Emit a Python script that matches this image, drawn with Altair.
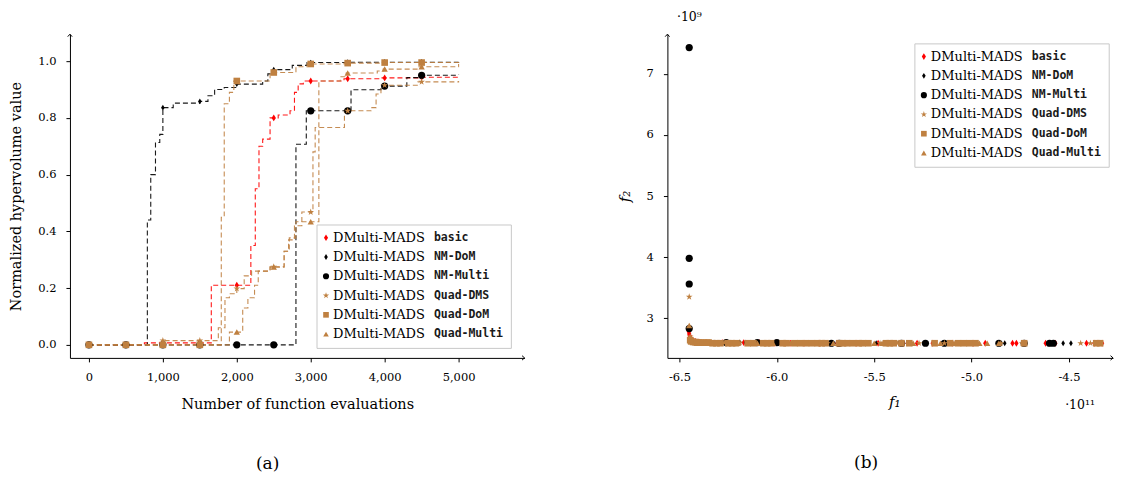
import altair as alt
import pandas as pd

SERIF = "DejaVu Serif"
MONO = "DejaVu Sans Mono"

SERIES = ["DMulti-MADS basic", "DMulti-MADS NM-DoM", "DMulti-MADS NM-Multi",
          "DMulti-MADS Quad-DMS", "DMulti-MADS Quad-DoM", "DMulti-MADS Quad-Multi"]
PREFIX = ["DMulti-MADS", "DMulti-MADS", "DMulti-MADS", "DMulti-MADS", "DMulti-MADS", "DMulti-MADS"]
VARIANTS = ["basic", "NM-DoM", "NM-Multi", "Quad-DMS", "Quad-DoM", "Quad-Multi"]
COLORS = ["#ff0000", "#000000", "#000000", "#bf8040", "#bf8040", "#bf8040"]
DIAMOND = "M0,-1L0.62,0L0,1L-0.62,0Z"
STAR = ("M0,-1L0.2245,-0.309L0.9511,-0.309L0.3633,0.118L0.5878,0.809L0,0.382"
        "L-0.5878,0.809L-0.3633,0.118L-0.9511,-0.309L-0.2245,-0.309Z")
SHAPES = [DIAMOND, DIAMOND, "circle", STAR, "square", "triangle-up"]
SIZES = [48, 34, 52, 50, 44, 40]
LEG_SIZES = [44, 34, 38, 44, 32, 32]

# ---------------- (a) normalized hypervolume vs evaluations ----------------
MARK_X = [0, 500, 1000, 1500, 2000, 2500, 3000, 3500, 4000, 4500]

basic_cx = [0, 750, 1655, 2190, 2250, 2300, 2350, 2450, 2560, 2720, 2780, 2830, 2900, 3450, 3950, 4450, 5000]
basic_cy = [0.0, 0.007, 0.21, 0.35, 0.55, 0.70, 0.725, 0.80, 0.81, 0.825, 0.89, 0.92, 0.93, 0.938, 0.941, 0.943, 0.946]
basic_my = [0.0, 0.0, 0.007, 0.007, 0.21, 0.80, 0.93, 0.938, 0.941, 0.943]

nmdom_cx = [0, 790, 836, 900, 958, 1000, 1140, 1500, 1610, 1700, 1830, 2000, 2350, 2420, 2480, 2750, 2950, 3500, 5000]
nmdom_cy = [0.0, 0.44, 0.60, 0.713, 0.742, 0.836, 0.852, 0.858, 0.878, 0.90, 0.907, 0.919, 0.93, 0.955, 0.97, 0.985, 0.995, 0.996, 0.997]
nmdom_my = [0.0, 0.0, 0.836, 0.858, 0.919, 0.97, 0.995, 0.996, 0.997, 0.997]

nmmulti_cx = [0, 2800, 2940, 3545, 3950, 4300, 4480, 5000]
nmmulti_cy = [0.0, 0.707, 0.825, 0.899, 0.912, 0.942, 0.95, 0.952]
nmmulti_my = [0.0, 0.0, 0.0, 0.0, 0.0, 0.0, 0.825, 0.825, 0.912, 0.95]

qdms_cx = [0, 1000, 1750, 1840, 1900, 2000, 2100, 2200, 2450, 2640, 2700, 2780, 2880, 3030, 3060, 3456, 3816, 3884, 3950, 4450, 5000]
qdms_cy = [0.0, 0.015, 0.06, 0.166, 0.18, 0.198, 0.243, 0.26, 0.275, 0.33, 0.37, 0.42, 0.468, 0.68, 0.766, 0.825, 0.836, 0.884, 0.915, 0.927, 0.93]
qdms_my = [0.0, 0.0, 0.015, 0.015, 0.198, 0.275, 0.468, 0.825, 0.915, 0.927]

qdom_cx = [0, 1790, 1830, 1900, 1960, 2450, 2800, 2950, 3450, 3950, 5000]
qdom_cy = [0.0, 0.45, 0.85, 0.89, 0.93, 0.96, 0.98, 0.99, 0.993, 0.995, 0.997]
qdom_my = [0.0, 0.0, 0.0, 0.0, 0.93, 0.96, 0.99, 0.993, 0.995, 0.995]

qmulti_cx = [0, 1900, 2080, 2150, 2240, 2290, 2450, 2640, 2710, 2800, 3110, 3400, 3480, 3900, 3980, 4450, 5000]
qmulti_cy = [0.0, 0.045, 0.13, 0.166, 0.21, 0.26, 0.274, 0.33, 0.377, 0.434, 0.93, 0.945, 0.958, 0.965, 0.972, 0.98, 0.99]
qmulti_my = [0.0, 0.0, 0.0, 0.0, 0.045, 0.274, 0.434, 0.958, 0.972, 0.98]

CURVES_X = [basic_cx, nmdom_cx, nmmulti_cx, qdms_cx, qdom_cx, qmulti_cx]
CURVES_Y = [basic_cy, nmdom_cy, nmmulti_cy, qdms_cy, qdom_cy, qmulti_cy]
MARKS_Y = [basic_my, nmdom_my, nmmulti_my, qdms_my, qdom_my, qmulti_my]

# ---------------- (b) objective space (f1 in 1e11, f2 in 1e9) ----------------
basic_f1 = [-6.452, -6.450, -6.447, -6.444, -6.440, -6.435, -6.428, -6.418, -6.40, -6.36,
            -6.28, -6.17, -6.09, -6.01, -5.93, -5.86, -5.78, -5.69, -5.59, -5.48,
            -5.35, -5.28, -5.20, -5.10, -4.99, -4.93, -4.79, -4.77, -4.73, -4.62,
            -4.60, -4.57, -4.41, -4.37, -4.33]
basic_f2 = [2.78, 2.74, 2.71, 2.68, 2.66, 2.64, 2.63, 2.62, 2.61, 2.60,
            2.60, 2.60, 2.60, 2.59, 2.59, 2.59, 2.59, 2.59, 2.59, 2.59,
            2.59, 2.59, 2.59, 2.59, 2.59, 2.59, 2.59, 2.59, 2.59, 2.59,
            2.59, 2.59, 2.59, 2.59, 2.59]

nmdom_f1 = [-6.445, -6.32, -6.19, -6.16, -6.08, -5.99, -5.72, -5.65, -5.49, -5.33,
            -5.31, -5.10, -4.86, -4.83, -4.53, -4.49]
nmdom_f2 = [2.62, 2.60, 2.60, 2.60, 2.59, 2.59, 2.59, 2.59, 2.59, 2.59,
            2.59, 2.59, 2.59, 2.59, 2.59, 2.59]

nmmulti_f1 = [-6.45, -6.45, -6.45, -6.45, -6.26, -6.10, -6.00, -5.72, -5.68, -5.36,
              -5.237, -5.14, -4.86, -4.73, -4.60, -4.58]
nmmulti_f2 = [7.43, 3.98, 3.56, 2.83, 2.60, 2.60, 2.60, 2.59, 2.59, 2.59,
              2.59, 2.59, 2.59, 2.59, 2.59, 2.59]

qdms_f1 = [-6.45, -6.445, -6.41, -6.34, -6.27, -6.19, -6.13, -6.04, -5.96, -5.87,
           -5.80, -5.74, -5.62, -5.54, -5.47, -5.38, -5.27, -5.14, -5.05, -4.97,
           -4.85, -4.74, -4.44, -4.39]
qdms_f2 = [3.35, 2.70, 2.60, 2.60, 2.60, 2.60, 2.59, 2.59, 2.59, 2.59,
           2.59, 2.59, 2.59, 2.59, 2.59, 2.59, 2.59, 2.59, 2.59, 2.59,
           2.59, 2.59, 2.59, 2.59]

qdom_f1 = [-6.445, -6.44, -6.43, -6.42, -6.41, -6.40, -6.39, -6.38, -6.36, -6.35,
           -6.33, -6.31, -6.29, -6.25, -6.23, -6.21, -6.15, -6.12, -6.07, -6.05,
           -6.03, -5.97, -5.95, -5.91, -5.88, -5.85, -5.82, -5.79, -5.77, -5.75,
           -5.68, -5.66, -5.64, -5.61, -5.58, -5.56, -5.53, -5.44, -5.42, -5.40,
           -5.36, -5.32, -5.19, -5.11, -5.07, -5.04, -5.01, -4.98, -4.73, -4.36,
           -4.34]
qdom_f2 = [2.64, 2.62, 2.61, 2.61, 2.60, 2.60, 2.60, 2.60, 2.60, 2.60,
           2.59, 2.59, 2.59, 2.59, 2.59, 2.59, 2.59, 2.59, 2.59, 2.59,
           2.59, 2.59, 2.59, 2.59, 2.59, 2.59, 2.59, 2.59, 2.59, 2.59,
           2.59, 2.59, 2.59, 2.59, 2.59, 2.59, 2.59, 2.59, 2.59, 2.59,
           2.59, 2.59, 2.59, 2.59, 2.59, 2.59, 2.59, 2.59, 2.59, 2.59,
           2.59]

qmulti_f1 = [-6.45, -6.445, -6.42, -6.37, -6.30, -6.20, -6.10, -6.02, -5.93, -5.84,
             -5.71, -5.60, -5.50, -5.46, -5.30, -5.16, -5.09, -5.00, -4.96, -4.92,
             -4.86]
qmulti_f2 = [2.88, 2.66, 2.60, 2.60, 2.60, 2.59, 2.59, 2.59, 2.59, 2.59,
             2.59, 2.59, 2.59, 2.59, 2.59, 2.59, 2.59, 2.59, 2.59, 2.59,
             2.59]

FRONT_X = [basic_f1, nmdom_f1, nmmulti_f1, qdms_f1, qdom_f1, qmulti_f1]
FRONT_Y = [basic_f2, nmdom_f2, nmmulti_f2, qdms_f2, qdom_f2, qmulti_f2]

# ---------------- build tables ----------------
lines_df = pd.concat([pd.DataFrame({"series": s, "col": c, "x": cx, "y": cy,
                                    "o": list(range(len(cx)))})
                      for s, c, cx, cy in zip(SERIES, COLORS, CURVES_X, CURVES_Y)],
                     ignore_index=True)
marks_df = pd.concat([pd.DataFrame({"series": s, "sz": z, "x": MARK_X, "y": my})
                      for s, z, my in zip(SERIES, SIZES, MARKS_Y)], ignore_index=True)
front_df = pd.concat([pd.DataFrame({"series": s, "sz": z, "x": fx, "y": fy})
                      for s, z, fx, fy in zip(SERIES, SIZES, FRONT_X, FRONT_Y)],
                     ignore_index=True)
legend_df = pd.DataFrame({"series": SERIES, "prefix": PREFIX, "variant": VARIANTS,
                          "row": list(range(len(SERIES))), "sz": LEG_SIZES})
one = pd.DataFrame({"a": [0]})

W1, H1 = 455, 324
W2, H2 = 446, 324

UP = "M-0.8,0.9L0,0L0.8,0.9"
RIGHT = "M-0.9,-0.8L0,0L-0.9,0.8"

axis_common = dict(domainColor="black", tickColor="black", labelColor="black",
                   titleColor="black", grid=False, tickSize=4, domainWidth=1,
                   labelFont=SERIF, titleFont=SERIF, labelFontSize=11.5,
                   titleFontWeight="normal", labelPadding=10)

color_enc = alt.Color("series:N", scale=alt.Scale(domain=SERIES, range=COLORS), legend=None)
shape_enc = alt.Shape("series:N", scale=alt.Scale(domain=SERIES, range=SHAPES), legend=None)


def arrows(w, h):
    up = alt.Chart(one).mark_point(shape=UP, filled=False, stroke="black", strokeWidth=1,
                                   size=30, opacity=1).encode(x=alt.value(0), y=alt.value(0))
    rt = alt.Chart(one).mark_point(shape=RIGHT, filled=False, stroke="black", strokeWidth=1,
                                   size=30, opacity=1).encode(x=alt.value(w), y=alt.value(h))
    return up, rt


def legend_layers(left, top):
    """Legend box drawn inside the plot: serif 'DMulti-MADS' + typewriter variant."""
    box = alt.Chart(one).mark_rect(fill="white", stroke="#c8c8c8", strokeWidth=1).encode(
        x=alt.value(left), x2=alt.value(left + 194.5),
        y=alt.value(top), y2=alt.value(top + 123.5))
    base = alt.Chart(legend_df).transform_calculate(
        ly=f"{top + 12.7} + datum.row * 19.3")
    sym = base.mark_point(filled=True, opacity=1, strokeWidth=0).encode(
        x=alt.value(left + 9), y=alt.Y("ly:Q", scale=None),
        color=color_enc, shape=shape_enc, size=alt.Size("sz:Q", scale=None))
    t1 = base.mark_text(align="left", baseline="middle", font=SERIF, fontSize=13,
                        color="black").encode(
        x=alt.value(left + 16), y=alt.Y("ly:Q", scale=None), text="prefix:N")
    t2 = base.mark_text(align="left", baseline="middle", font=MONO, fontSize=11.5,
                        fontWeight="bold", color="#1a1a1a").encode(
        x=alt.value(left + 117), y=alt.Y("ly:Q", scale=None), text="variant:N")
    return [box, sym, t1, t2]


# ---- panel (a)
xa = alt.X("x:Q", scale=alt.Scale(domain=[-257, 5892], nice=False, zero=False),
           axis=alt.Axis(values=[0, 1000, 2000, 3000, 4000, 5000], format=",d",
                         title="Number of function evaluations", titlePadding=14,
                         titleFontSize=14.5, **axis_common))
ya = alt.Y("y:Q", scale=alt.Scale(domain=[-0.046, 1.095], nice=False, zero=False),
           axis=alt.Axis(values=[0, 0.2, 0.4, 0.6, 0.8, 1.0], format=".1f",
                         title="Normalized hypervolume value", titlePadding=14,
                         titleFontSize=14.5, **axis_common))

lines = alt.Chart(lines_df).mark_line(interpolate="step-after", strokeDash=[5, 3],
                                      strokeWidth=1.1, opacity=0.9).encode(
    x=xa, y=ya, stroke=alt.Stroke("col:N", scale=None),
    detail="series:N", order="o:Q")

pts_a = alt.Chart(marks_df).mark_point(filled=True, opacity=1, strokeWidth=0).encode(
    x=xa, y=ya, color=color_enc, shape=shape_enc, size=alt.Size("sz:Q", scale=None))

up_a, rt_a = arrows(W1, H1)

panel_a = alt.layer(lines, pts_a, up_a, rt_a, *legend_layers(247.3, 191)).properties(
    width=W1, height=H1,
    title=alt.TitleParams("(a)", orient="bottom", anchor="middle", frame="bounds",
                          font=SERIF, fontSize=17, fontWeight="normal", color="black", offset=45))

# ---- panel (b)
xb = alt.X("x:Q", scale=alt.Scale(domain=[-6.562, -4.274], nice=False, zero=False),
           axis=alt.Axis(values=[-6.5, -6.0, -5.5, -5.0, -4.5],
                         labelExpr="replace(format(datum.value, '.1f'), '\u2212', '-')",
                         title="f\u2081", titleFontStyle="italic", titlePadding=11,
                         titleX=227, titleFontSize=15, **axis_common))
yb = alt.Y("y:Q", scale=alt.Scale(domain=[2.35, 7.65], nice=False, zero=False),
           axis=alt.Axis(values=[3, 4, 5, 6, 7], format="d",
                         title="f\u2082", titleFontStyle="italic", titlePadding=14,
                         titleFontSize=15, **axis_common))

pts_b = alt.Chart(front_df).mark_point(filled=True, opacity=1, strokeWidth=0).encode(
    x=xb, y=yb, color=color_enc, shape=shape_enc, size=alt.Size("sz:Q", scale=None))

up_b, rt_b = arrows(W2, H2)
exp_y = alt.Chart(one).mark_text(font=SERIF, fontSize=12.5, align="center", baseline="middle",
                                 color="black").encode(x=alt.value(22), y=alt.value(-17),
                                                       text=alt.value("\u00b710\u2079"))
exp_x = alt.Chart(one).mark_text(font=SERIF, fontSize=12.5, align="center", baseline="middle",
                                 color="black").encode(x=alt.value(413), y=alt.value(371),
                                                       text=alt.value("\u00b710\u00b9\u00b9"))

panel_b = alt.layer(pts_b, up_b, rt_b, exp_y, exp_x, *legend_layers(247.7, 9.7)).properties(
    width=W2, height=H2,
    title=alt.TitleParams("(b)", orient="bottom", anchor="middle", frame="bounds",
                          font=SERIF, fontSize=17, fontWeight="normal", color="black", offset=44))

chart = (alt.hconcat(panel_a, panel_b, spacing=143, bounds="flush",
                     padding={"left": 0, "top": 3, "right": 0, "bottom": 0})
         .configure_view(stroke=None))

chart.save("out.html", embed_options={"renderer": "svg", "actions": False})
